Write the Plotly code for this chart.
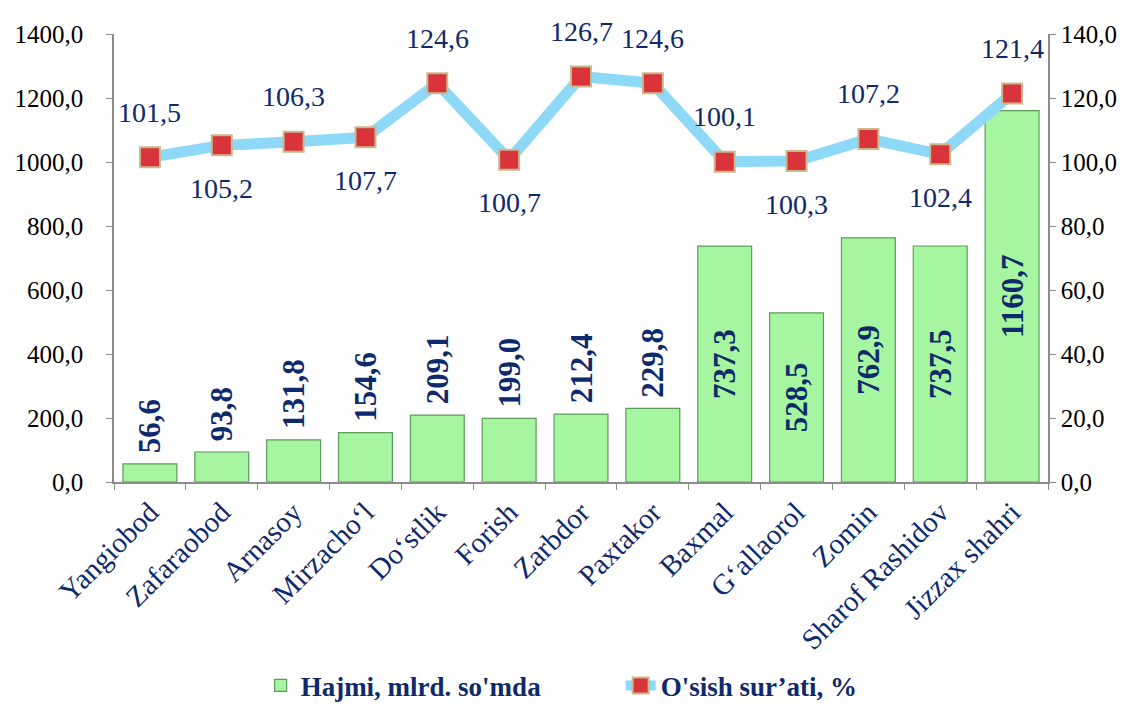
import plotly.graph_objects as go

categories = ["Yangiobod", "Zafaraobod", "Arnasoy", "Mirzacho‘l", "Do‘stlik", "Forish",
              "Zarbdor", "Paxtakor", "Baxmal", "G‘allaorol", "Zomin", "Sharof Rashidov",
              "Jizzax shahri"]
volume = [56.6, 93.8, 131.8, 154.6, 209.1, 199.0, 212.4, 229.8, 737.3, 528.5, 762.9, 737.5, 1160.7]
growth = [101.5, 105.2, 106.3, 107.7, 124.6, 100.7, 126.7, 124.6, 100.1, 100.3, 107.2, 102.4, 121.4]
label_side = ["up", "down", "up", "down", "up", "down", "up", "up", "up", "down", "up", "down", "up"]
bar_text_pos = ["outside"] * 8 + ["inside"] * 5

NAVY = "#0E2A6B"
SERIF = "'Liberation Serif', 'Times New Roman', serif"

bar_text = [(" " if p == "outside" else "") + f"{v:.1f}".replace(".", ",")
            for v, p in zip(volume, bar_text_pos)]

fig = go.Figure()
fig.add_trace(go.Bar(
    x=categories, y=volume, name="Hajmi, mlrd. so'mda",
    marker=dict(color="#A6F5A0", line=dict(color="#5E9A5A", width=1.2)),
    text=bar_text,
    textposition=bar_text_pos, textangle=-90, insidetextanchor="middle",
    constraintext="none",
    textfont=dict(family=SERIF, size=31, color=NAVY, weight="bold"),
    cliponaxis=False, yaxis="y",
))
fig.add_trace(go.Scatter(
    x=categories, y=growth, name="O'sish sur’ati, %", yaxis="y2", mode="lines+markers",
    line=dict(color="#8ED8F8", width=11),
    marker=dict(symbol="square", size=20, color="#D9343A", line=dict(color="#C9B98E", width=2)),
    cliponaxis=False,
))

for c, g, s in zip(categories, growth, label_side):
    fig.add_annotation(x=c, y=g, xref="x", yref="y2", text=f"{g:.1f}".replace(".", ","),
                       showarrow=False, yshift=45 if s == "up" else -43,
                       font=dict(family=SERIF, size=28, color=NAVY))

axis_common = dict(showline=True, linecolor="#8C8C8C", linewidth=1.5, ticks="outside",
                   ticklen=6, tickcolor="#8C8C8C", showgrid=False, zeroline=False,
                   automargin=False)

fig.update_layout(
    template="none",
    width=1125, height=714, plot_bgcolor="white", paper_bgcolor="white",
    margin=dict(l=106, r=85, t=26, b=227),
    separators=", ", bargap=0.25,
    font=dict(family=SERIF, color="black"),
    xaxis=dict(type="category", range=[-0.5, len(categories) - 0.5], tickson="boundaries",
               tickangle=-45, tickfont=dict(family=SERIF, size=29, color=NAVY), **axis_common),
    yaxis=dict(range=[0, 1400], dtick=200, tickformat=".1f", ticklabelstandoff=18,
               tickfont=dict(family=SERIF, size=25, color="black"), **axis_common),
    yaxis2=dict(range=[0, 140], dtick=20, tickformat=".1f", overlaying="y", side="right",
                tickfont=dict(family=SERIF, size=25, color="black"), **axis_common),
    showlegend=True,
    legend=dict(orientation="h", x=0.157, xanchor="left", y=-0.455, yanchor="middle",
                font=dict(family=SERIF, size=27, color=NAVY, weight="bold"),
                entrywidth=315, entrywidthmode="pixels", bgcolor="rgba(0,0,0,0)"),
)

fig.write_html("out.html")
